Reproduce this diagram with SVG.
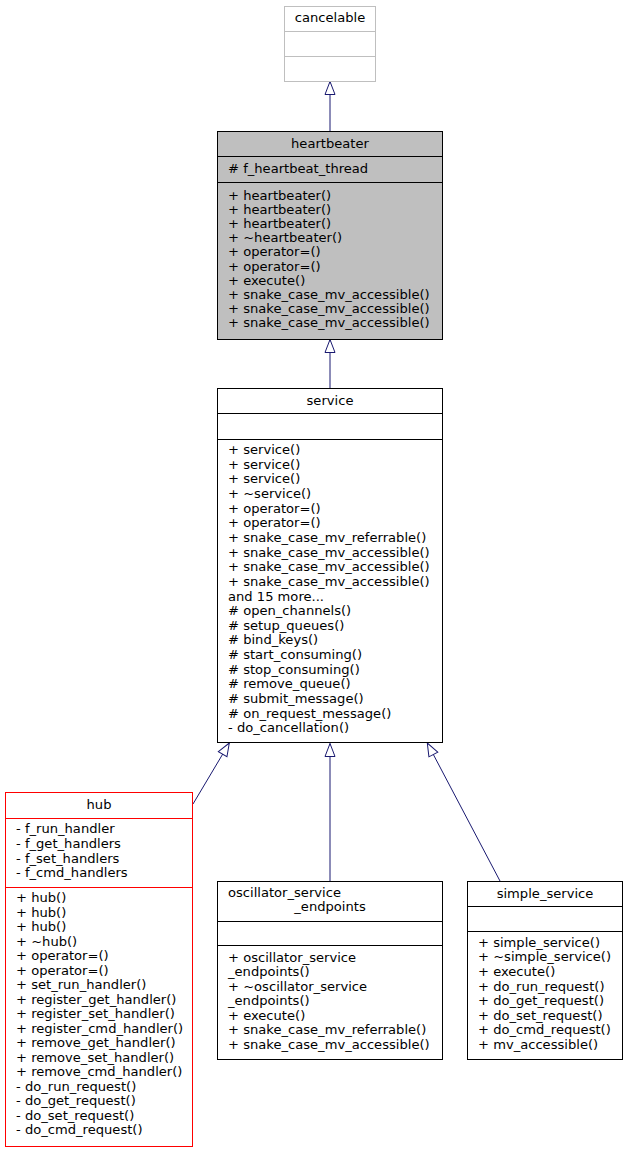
<svg xmlns="http://www.w3.org/2000/svg" width="628" height="1153" viewBox="0 0 628 1153">
<style>
text{font-family:"DejaVu Sans","Liberation Sans",sans-serif;font-size:13.1px;fill:#000}
.c{text-anchor:middle}
.box{fill:#fff;stroke:#000;stroke-width:1}
.gray{fill:#bfbfbf;stroke:#000;stroke-width:1}
.light{fill:#fff;stroke:#bfbfbf;stroke-width:1}
.red{fill:#fff;stroke:#ff0000;stroke-width:1}
.div{stroke:#000;stroke-width:1}
.divl{stroke:#bfbfbf;stroke-width:1}
.divr{stroke:#ff0000;stroke-width:1}
.edge{stroke:#191970;stroke-width:1;fill:none;marker-end:url(#tri)}
</style>
<defs>
<marker id="tri" viewBox="0 0 13 10" refX="13" refY="5" markerWidth="13" markerHeight="10" markerUnits="userSpaceOnUse" orient="auto" overflow="visible">
<path d="M0,0 L13,5 L0,10 Z" fill="#fff" stroke="#191970" stroke-width="1"/>
</marker>
</defs>
<rect width="628" height="1153" fill="#fff"/>
<g id="connectors">
<line class="edge" x1="330" y1="131" x2="330" y2="81.5"/>
<line class="edge" x1="330" y1="388" x2="330" y2="339.5"/>
<line class="edge" x1="193" y1="804" x2="229.3" y2="743"/>
<line class="edge" x1="330" y1="881" x2="330" y2="743.5"/>
<line class="edge" x1="500" y1="881" x2="427.3" y2="743"/>
</g>
<g id="cancelable">
<rect class="light" x="284.5" y="6.5" width="91" height="75"/>
<line class="divl" x1="284.5" y1="31.5" x2="375.5" y2="31.5"/>
<line class="divl" x1="284.5" y1="56.5" x2="375.5" y2="56.5"/>
<text class="c" x="330" y="22">cancelable</text>
</g>
<g id="heartbeater">
<rect class="gray" x="217.5" y="131.5" width="225" height="208"/>
<line class="div" x1="217.5" y1="156.5" x2="442.5" y2="156.5"/>
<line class="div" x1="217.5" y1="182.5" x2="442.5" y2="182.5"/>
<text class="c" x="330" y="148">heartbeater</text>
<text x="228" y="172.5"># f_heartbeat_thread</text>
<text x="228" y="199.5">+ heartbeater()</text>
<text x="228" y="213.7">+ heartbeater()</text>
<text x="228" y="227.9">+ heartbeater()</text>
<text x="228" y="242.1">+ ~heartbeater()</text>
<text x="228" y="256.3">+ operator=()</text>
<text x="228" y="270.5">+ operator=()</text>
<text x="228" y="284.7">+ execute()</text>
<text x="228" y="298.9">+ snake_case_mv_accessible()</text>
<text x="228" y="313.1">+ snake_case_mv_accessible()</text>
<text x="228" y="327.3">+ snake_case_mv_accessible()</text>
</g>
<g id="service">
<rect class="box" x="217.5" y="388.5" width="225" height="354"/>
<line class="div" x1="217.5" y1="413.5" x2="442.5" y2="413.5"/>
<line class="div" x1="217.5" y1="439.5" x2="442.5" y2="439.5"/>
<text class="c" x="330" y="405">service</text>
<text x="228" y="454">+ service()</text>
<text x="228" y="468.6">+ service()</text>
<text x="228" y="483.3">+ service()</text>
<text x="228" y="497.9">+ ~service()</text>
<text x="228" y="512.6">+ operator=()</text>
<text x="228" y="527.2">+ operator=()</text>
<text x="228" y="541.9">+ snake_case_mv_referrable()</text>
<text x="228" y="556.5">+ snake_case_mv_accessible()</text>
<text x="228" y="571.2">+ snake_case_mv_accessible()</text>
<text x="228" y="585.8">+ snake_case_mv_accessible()</text>
<text x="228" y="600.5">and 15 more...</text>
<text x="228" y="615.1"># open_channels()</text>
<text x="228" y="629.8"># setup_queues()</text>
<text x="228" y="644.4"># bind_keys()</text>
<text x="228" y="659.1"># start_consuming()</text>
<text x="228" y="673.7"># stop_consuming()</text>
<text x="228" y="688.4"># remove_queue()</text>
<text x="228" y="703"># submit_message()</text>
<text x="228" y="717.7"># on_request_message()</text>
<text x="228" y="732.3">- do_cancellation()</text>
</g>
<g id="hub">
<rect class="red" x="5.5" y="792.5" width="187" height="354"/>
<line class="divr" x1="5.5" y1="818.5" x2="192.5" y2="818.5"/>
<line class="divr" x1="5.5" y1="887.5" x2="192.5" y2="887.5"/>
<text class="c" x="99" y="809">hub</text>
<text x="16" y="833.3">- f_run_handler</text>
<text x="16" y="848">- f_get_handlers</text>
<text x="16" y="862.6">- f_set_handlers</text>
<text x="16" y="877.3">- f_cmd_handlers</text>
<text x="16" y="902.3">+ hub()</text>
<text x="16" y="916.8">+ hub()</text>
<text x="16" y="931.3">+ hub()</text>
<text x="16" y="945.8">+ ~hub()</text>
<text x="16" y="960.3">+ operator=()</text>
<text x="16" y="974.8">+ operator=()</text>
<text x="16" y="989.3">+ set_run_handler()</text>
<text x="16" y="1003.8">+ register_get_handler()</text>
<text x="16" y="1018.3">+ register_set_handler()</text>
<text x="16" y="1032.8">+ register_cmd_handler()</text>
<text x="16" y="1047.3">+ remove_get_handler()</text>
<text x="16" y="1061.8">+ remove_set_handler()</text>
<text x="16" y="1076.3">+ remove_cmd_handler()</text>
<text x="16" y="1090.8">- do_run_request()</text>
<text x="16" y="1105.3">- do_get_request()</text>
<text x="16" y="1119.8">- do_set_request()</text>
<text x="16" y="1134.3">- do_cmd_request()</text>
</g>
<g id="oscillator_service_endpoints">
<rect class="box" x="217.5" y="881.5" width="225" height="178"/>
<line class="div" x1="217.5" y1="921.5" x2="442.5" y2="921.5"/>
<line class="div" x1="217.5" y1="945.5" x2="442.5" y2="945.5"/>
<text x="228" y="896.5">oscillator_service</text>
<text class="c" x="330" y="911">_endpoints</text>
<text x="228" y="961.7">+ oscillator_service</text>
<text x="228" y="976.2">_endpoints()</text>
<text x="228" y="990.8">+ ~oscillator_service</text>
<text x="228" y="1005.3">_endpoints()</text>
<text x="228" y="1019.9">+ execute()</text>
<text x="228" y="1034.4">+ snake_case_mv_referrable()</text>
<text x="228" y="1049">+ snake_case_mv_accessible()</text>
</g>
<g id="simple_service">
<rect class="box" x="467.5" y="881.5" width="155" height="178"/>
<line class="div" x1="467.5" y1="906.5" x2="622.5" y2="906.5"/>
<line class="div" x1="467.5" y1="931.5" x2="622.5" y2="931.5"/>
<text class="c" x="545" y="898">simple_service</text>
<text x="478" y="946.7">+ simple_service()</text>
<text x="478" y="961.3">+ ~simple_service()</text>
<text x="478" y="975.9">+ execute()</text>
<text x="478" y="990.5">+ do_run_request()</text>
<text x="478" y="1005.1">+ do_get_request()</text>
<text x="478" y="1019.7">+ do_set_request()</text>
<text x="478" y="1034.3">+ do_cmd_request()</text>
<text x="478" y="1048.9">+ mv_accessible()</text>
</g>
</svg>
